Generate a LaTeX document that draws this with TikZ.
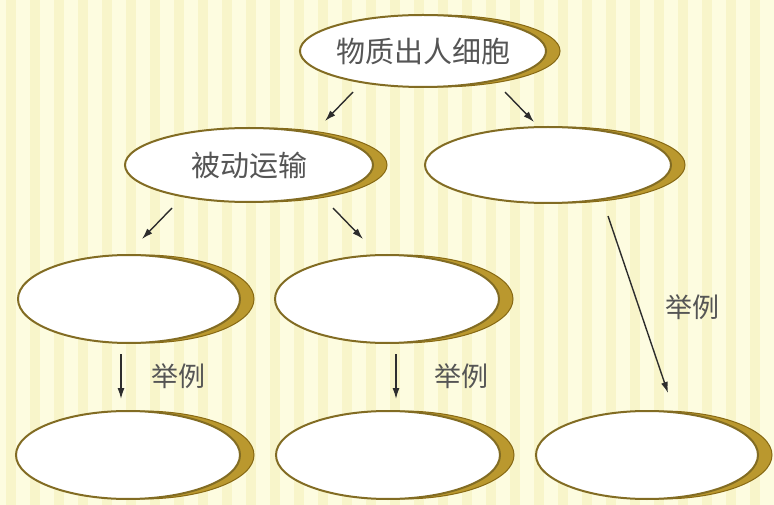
\documentclass[tikz,border=0pt]{standalone}
\usepackage{fontspec}
\newfontfamily\cjk{Noto Sans CJK SC}
\usetikzlibrary{shapes.geometric,arrows.meta}
\definecolor{bgyel}{RGB}{253,252,224}
\definecolor{stripe}{RGB}{248,245,202}
\definecolor{rimcol}{RGB}{130,108,35}
\definecolor{goldsh}{RGB}{186,152,46}
\definecolor{goldd}{RGB}{135,105,20}
\definecolor{txtcol}{RGB}{85,85,85}
\definecolor{arrcol}{RGB}{45,45,45}
\tikzset{
  bubble/.style={ellipse, inner sep=0pt, fill=white, draw=rimcol, line width=2pt,
    preaction={fill=goldsh, draw=goldd, line width=1pt, transform canvas={xshift=14pt}},
    font=\cjk\fontsize{29pt}{31pt}\selectfont, text=txtcol},
  arr/.style={draw=arrcol, line width=1.4pt, -{Latex[length=11pt,width=7pt]}},
  lbl/.style={font=\cjk\fontsize{27pt}{29pt}\selectfont, text=txtcol, inner sep=0pt}
}
\begin{document}
\begin{tikzpicture}[x=1pt,y=-1pt]
\useasboundingbox (0,0) rectangle (774,505);
\fill[bgyel] (0,0) rectangle (774,505);
\foreach \i in {0,...,32} {
  \fill[stripe] ({\i*24+6},0) rectangle ({\i*24+16},505);
}
% nodes
\node[bubble, minimum width=240pt, minimum height=72pt] (top) at (423,51) {物质出人细胞};
\node[bubble, minimum width=248pt, minimum height=74pt] (passive) at (249,165) {被动运输};
\node[bubble, minimum width=246pt, minimum height=76pt] (active) at (548,165) {};
\node[bubble, minimum width=222pt, minimum height=88pt] (l3a) at (129,299) {};
\node[bubble, minimum width=224pt, minimum height=88pt] (l3b) at (387,299) {};
\node[bubble, minimum width=224pt, minimum height=88pt] (l4a) at (128,455) {};
\node[bubble, minimum width=224pt, minimum height=88pt] (l4b) at (388,455) {};
\node[bubble, minimum width=222pt, minimum height=88pt] (l4c) at (647,455) {};
% arrow ends
\coordinate (a1s) at (353,92);  \coordinate (a1e) at (325,121);
\coordinate (a2s) at (505,92);  \coordinate (a2e) at (534,122);
\coordinate (a3s) at (172,208); \coordinate (a3e) at (142,239);
\coordinate (a4s) at (333,208); \coordinate (a4e) at (363,239);
\coordinate (a5s) at (121,354); \coordinate (a5e) at (121,399);
\coordinate (a6s) at (396,354); \coordinate (a6e) at (396,399);
\coordinate (a7s) at (608,216); \coordinate (a7e) at (668,393);
\draw[arr] (a1s) -- (a1e);
\draw[arr] (a2s) -- (a2e);
\draw[arr] (a3s) -- (a3e);
\draw[arr] (a4s) -- (a4e);
\draw[arr] (a5s) -- (a5e);
\draw[arr] (a6s) -- (a6e);
\draw[arr] (a7s) -- (a7e);
% labels
\node[lbl] (e1) at (178,376) {举例};
\node[lbl] (e2) at (461,376) {举例};
\node[lbl] (e3) at (692,307) {举例};
\end{tikzpicture}
\end{document}
